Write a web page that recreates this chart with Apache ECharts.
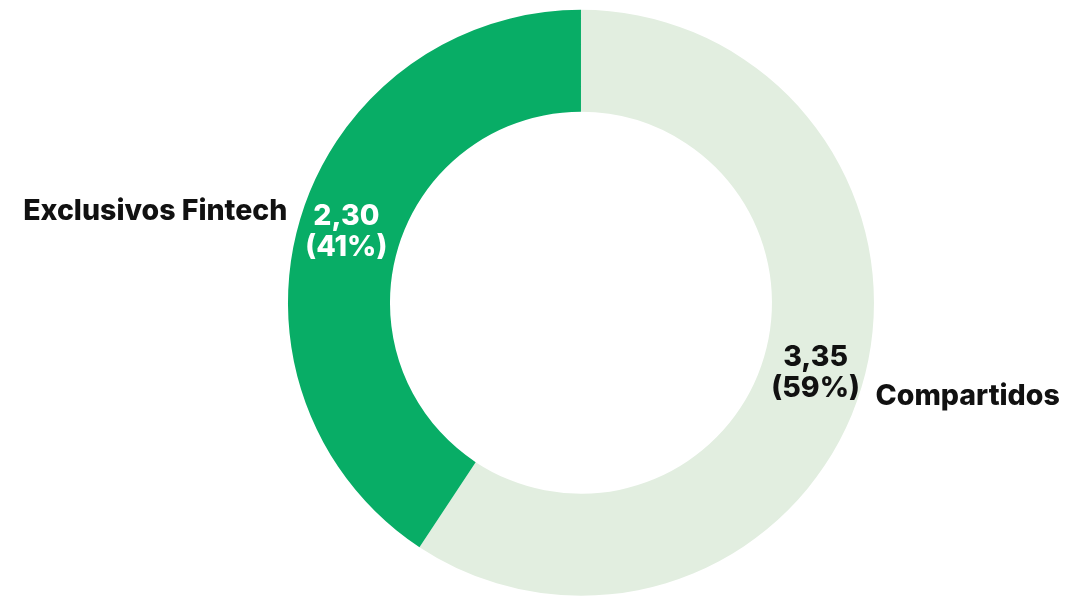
<!DOCTYPE html>
<html>
<head>
<meta charset="utf-8">
<script src="https://cdn.jsdelivr.net/npm/echarts@6/dist/echarts.min.js"></script>
<style>
html,body{margin:0;padding:0;background:#fff;}
#chart{width:1066px;height:596px;}
</style>
</head>
<body>
<div id="chart"></div>
<script>
const categories = ['Compartidos', 'Exclusivos Fintech'];
const values = [3.35, 2.30];
const valueLabels = ['3,35', '2,30'];
const percentLabels = ['59%', '41%'];
const colors = ['#e2eee0', '#08ad66'];
const labelColors = ['#111111', '#ffffff'];

const FONT = 'Inter';
const chart = echarts.init(document.getElementById('chart'));
const center = ['54.5%', '50.8%'];
const radius = ['191', '293'];

const data = categories.map((c, i) => ({
  name: c,
  value: values[i],
  itemStyle: { color: colors[i] },
  label: { color: labelColors[i] }
}));

chart.setOption({
  animation: false,
  series: [
    {
      type: 'pie',
      center: center,
      radius: radius,
      startAngle: 90,
      clockwise: true,
      avoidLabelOverlap: false,
      silent: true,
      label: {
        show: true,
        position: 'inside',
        fontFamily: FONT,
        fontWeight: 800,
        fontSize: 28.5,
        lineHeight: 31,
        formatter: p => valueLabels[p.dataIndex] + '\n(' + percentLabels[p.dataIndex] + ')'
      },
      labelLine: { show: false },
      data: data
    },
    {
      type: 'pie',
      center: center,
      radius: radius,
      startAngle: 90,
      clockwise: true,
      avoidLabelOverlap: false,
      silent: true,
      itemStyle: { color: 'rgba(0,0,0,0)' },
      label: {
        show: true,
        position: 'outside',
        color: '#111111',
        fontFamily: FONT,
        fontWeight: 800,
        fontSize: 28.5,
        formatter: p => p.name
      },
      labelLine: { show: false, length: 0, length2: 10 },
      labelLayout: p => (p.dataIndex === 0 ? { dx: -1, dy: 9 } : { dx: 2, dy: -7 }),
      data: categories.map((c, i) => ({ name: c, value: values[i] }))
    }
  ]
});
</script>
</body>
</html>
